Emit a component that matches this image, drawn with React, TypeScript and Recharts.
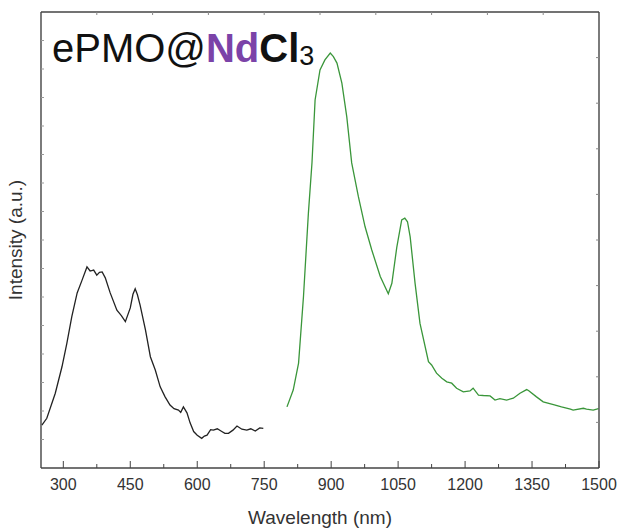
import { LineChart, Line, XAxis, YAxis, Customized } from 'recharts'

// excitation spectrum (black), wavelength nm -> intensity (a.u., 0-100 scale)
const excWavelength = [252, 263, 282, 297, 308, 319, 331, 342, 353, 360, 368, 375, 381, 387, 394, 405, 420, 430, 439, 450, 456, 461, 466, 472, 484, 495, 506, 517, 528, 539, 548, 558, 563, 569, 577, 584, 592, 600, 610, 616, 622, 630, 636, 645, 655, 662, 670, 680, 689, 700, 711, 720, 730, 740, 748]
const excIntensity = [9.4, 10.9, 16.4, 22.2, 27.4, 33.2, 38.4, 41.2, 44.1, 43.2, 43.4, 42.3, 42.9, 43.0, 41.7, 38.4, 34.6, 33.4, 32.1, 35.1, 38.1, 39.3, 38.0, 35.7, 30.3, 24.4, 21.5, 17.8, 15.6, 13.8, 13.0, 12.7, 12.2, 13.4, 12.1, 9.9, 8.0, 7.2, 6.5, 7.0, 7.2, 8.4, 8.3, 8.6, 8.0, 7.6, 7.6, 8.3, 9.2, 8.5, 8.3, 8.6, 8.1, 8.8, 8.7]

// emission spectrum (green)
const emWavelength = [801, 815, 827, 838, 849, 857, 864, 875, 886, 898, 905, 913, 924, 935, 946, 961, 976, 991, 1010, 1028, 1036, 1047, 1058, 1065, 1071, 1077, 1088, 1099, 1118, 1125, 1136, 1148, 1159, 1170, 1181, 1196, 1211, 1218, 1230, 1241, 1256, 1267, 1278, 1293, 1308, 1323, 1338, 1342, 1360, 1375, 1398, 1416, 1436, 1442, 1465, 1472, 1487, 1499]
const emIntensity = [13.4, 17.1, 23.0, 37.6, 55.9, 66.9, 80.7, 87.3, 89.5, 91.0, 90.2, 88.8, 84.4, 77.0, 66.9, 59.5, 52.9, 47.8, 42.0, 38.2, 40.5, 48.4, 54.4, 54.8, 54.0, 50.7, 40.5, 31.7, 23.3, 22.6, 20.8, 19.7, 18.9, 18.6, 17.5, 16.7, 16.9, 17.5, 16.0, 15.9, 15.8, 14.9, 15.2, 14.9, 15.3, 16.4, 17.2, 17.0, 15.6, 14.5, 13.9, 13.4, 12.9, 12.7, 13.1, 12.9, 12.7, 13.0]

const bottomTicks = [300, 375, 450, 525, 600, 675, 750, 825, 900, 975, 1050, 1125, 1200, 1275, 1350, 1425, 1500]
const topTicks = [375, 500, 625, 750, 875, 1000, 1125, 1250, 1375]
const leftTicks = [6.25, 12.5, 18.75, 25, 31.25, 37.5, 43.75, 50, 56.25, 62.5, 68.75, 75, 81.25, 87.5, 93.75]
const rightTicks = [10, 20, 30, 40, 50, 60, 70, 80, 90]

const excData = excWavelength.map((x, i) => ({ x, v: excIntensity[i] }))
const emData = emWavelength.map((x, i) => ({ x, v: emIntensity[i] }))

const font = '"Liberation Sans", Arial, Helvetica, sans-serif'
const frame = '#444'

const BottomTick = (props: any) => {
  const { x, y, payload } = props
  const major = payload.value % 150 === 0
  return (
    <g>
      <line x1={x} x2={x} y1={y} y2={y - (major ? 7 : 4)} stroke={frame} strokeWidth={1} />
      {major && (
        <text x={x} y={y + 22} textAnchor="middle" fontSize={16} fill="#333" fontFamily={font}>
          {payload.value}
        </text>
      )}
    </g>
  )
}

const TopTick = (props: any) => {
  const { x, y } = props
  return <line x1={x} x2={x} y1={y} y2={y + 3} stroke="#888" strokeWidth={1} />
}

const LeftTick = (props: any) => {
  const { x, y } = props
  return <line x1={x} x2={x + 3} y1={y} y2={y} stroke="#999" strokeWidth={1} />
}

const RightTick = (props: any) => {
  const { x, y } = props
  return <line x1={x} x2={x - 3} y1={y} y2={y} stroke="#888" strokeWidth={1} />
}

const Texts = () => (
  <g fontFamily={font}>
    <text x={52} y={62} fontSize={40} fill="#111">
      ePMO@
      <tspan fontWeight="bold" fill="#7b43a8">Nd</tspan>
      <tspan fontWeight="bold">Cl</tspan>
      <tspan fontSize={27} dy={3}>3</tspan>
    </text>
    <text x={22} y={240} transform="rotate(-90 22 240)" textAnchor="middle" fontSize={19} fill="#333">
      Intensity (a.u.)
    </text>
    <text x={320} y={524} textAnchor="middle" fontSize={19} fill="#333">
      Wavelength (nm)
    </text>
  </g>
)

export default function App() {
  return (
    <div style={{ position: 'absolute', left: 0, top: 0, background: '#fff' }}>
      <LineChart width={621} height={528} margin={{ top: 0, right: 0, bottom: 0, left: 0 }}>
        <XAxis
          dataKey="x"
          type="number"
          domain={[250, 1500]}
          allowDataOverflow
          ticks={bottomTicks}
          interval={0}
          height={60}
          tickSize={0}
          tickMargin={0}
          tickLine={false}
          axisLine={{ stroke: frame, strokeWidth: 1.4 }}
          tick={BottomTick}
        />
        <XAxis
          xAxisId="top"
          orientation="top"
          dataKey="x"
          type="number"
          domain={[250, 1500]}
          allowDataOverflow
          ticks={topTicks}
          interval={0}
          height={12}
          tickSize={0}
          tickMargin={0}
          tickLine={false}
          axisLine={{ stroke: frame, strokeWidth: 1.4 }}
          tick={TopTick}
        />
        <YAxis
          type="number"
          domain={[0, 100]}
          allowDataOverflow
          ticks={leftTicks}
          interval={0}
          width={41}
          tickSize={0}
          tickMargin={0}
          tickLine={false}
          axisLine={{ stroke: frame, strokeWidth: 1.4 }}
          tick={LeftTick}
        />
        <YAxis
          yAxisId="right"
          orientation="right"
          type="number"
          domain={[0, 100]}
          allowDataOverflow
          ticks={rightTicks}
          interval={0}
          width={22}
          tickSize={0}
          tickMargin={0}
          tickLine={false}
          axisLine={{ stroke: frame, strokeWidth: 1.4 }}
          tick={RightTick}
        />
        <Line
          data={excData}
          dataKey="v"
          type="linear"
          stroke="#222"
          strokeWidth={1.3}
          dot={false}
          isAnimationActive={false}
        />
        <Line
          data={emData}
          dataKey="v"
          type="linear"
          stroke="#3a963a"
          strokeWidth={1.3}
          dot={false}
          isAnimationActive={false}
        />
        <Customized component={Texts} />
      </LineChart>
    </div>
  )
}
